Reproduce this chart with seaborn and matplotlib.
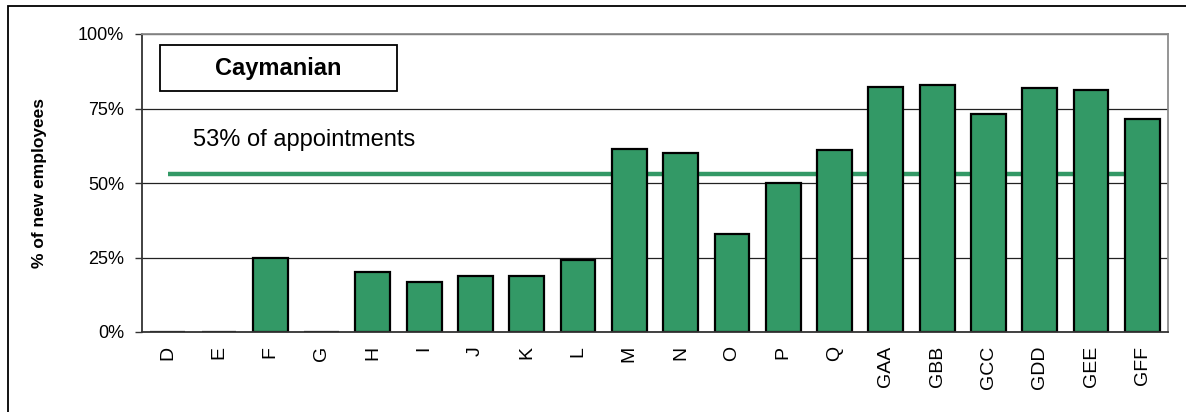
import matplotlib
matplotlib.use("Agg")
import matplotlib.pyplot as plt
from matplotlib.patches import Rectangle
from matplotlib.ticker import FixedLocator, PercentFormatter
import seaborn as sns
import pandas as pd

# data
categories = ["D", "E", "F", "G", "H", "I", "J", "K", "L", "M", "N", "O", "P", "Q",
              "GAA", "GBB", "GCC", "GDD", "GEE", "GFF"]
share = [0, 0, 25.0, 0, 20.1, 16.7, 18.8, 18.8, 24.3, 61.5, 60.1, 32.9, 49.9, 61.2,
         82.2, 82.9, 73.2, 81.8, 81.3, 71.5]
appointments = 53
group = "Caymanian"

green = "#339966"

sns.set_theme(style="white")
plt.rcParams["font.family"] = ["Liberation Sans", "DejaVu Sans"]
plt.rcParams["text.color"] = "black"
plt.rcParams["axes.labelcolor"] = "black"
plt.rcParams["xtick.color"] = "black"
plt.rcParams["ytick.color"] = "black"

df = pd.DataFrame({"cat": categories, "pct": share})

fig = plt.figure(figsize=(11.86, 4.12), dpi=100)
ax = fig.add_axes([142 / 1186, 1 - 332 / 412, (1168 - 142) / 1186, (332 - 34) / 412])

# target line sits behind the bars
ax.hlines(appointments, 0, len(categories) - 1, color=green, lw=3.2, zorder=1)

sns.barplot(data=df, x="cat", y="pct", color=green, width=0.68,
            edgecolor="black", linewidth=1.6, saturation=1, ax=ax, zorder=2)

ax.set_ylim(0, 100)
ax.set_xlim(-0.5, len(categories) - 0.5)
ax.yaxis.set_major_locator(FixedLocator([0, 25, 50, 75, 100]))
ax.yaxis.set_major_formatter(PercentFormatter(decimals=0))
ax.grid(axis="y", color="#222222", lw=0.9, zorder=0)
ax.set_axisbelow(True)

# excel style ticks between categories
ax.set_xticks([i - 0.5 for i in range(len(categories) + 1)], minor=True)
ax.tick_params(axis="x", which="major", length=0, pad=10, labelsize=14,
               labelrotation=90)
ax.tick_params(axis="x", which="minor", length=6, width=1, color="#333333", direction="out")
ax.tick_params(axis="y", length=5, width=1, color="#333333", direction="out",
               labelsize=13, pad=8, left=True)

for side in ["left", "bottom"]:
    ax.spines[side].set_color("#333333")
    ax.spines[side].set_linewidth(1.3)
for side in ["top", "right"]:
    ax.spines[side].set_visible(True)
    ax.spines[side].set_color("#8c8c8c")
    ax.spines[side].set_linewidth(1.3)

ax.set_xlabel("")
ax.set_ylabel("% of new employees", fontsize=12.5, fontweight="bold")
ax.yaxis.set_label_coords(-0.093, 0.5)

# legend-like box
box = Rectangle((160 / 1186, 1 - 91 / 412), (397 - 160) / 1186, (91 - 45) / 412,
                transform=fig.transFigure, fill=False, edgecolor="black", lw=1.3)
fig.patches.append(box)
fig.text(278 / 1186, 1 - 68 / 412, group, ha="center", va="center",
         fontsize=17, fontweight="bold")

fig.text(193 / 1186, 1 - 140 / 412, f"{appointments}% of appointments",
         ha="left", va="center", fontsize=17)

# outer figure frame
frame = Rectangle((8 / 1186, -0.1), 1.2, 1 - 5.5 / 412 + 0.1,
                  transform=fig.transFigure, fill=False, edgecolor="black", lw=1.3)
fig.patches.append(frame)

fig.savefig("out.png", dpi=100)
